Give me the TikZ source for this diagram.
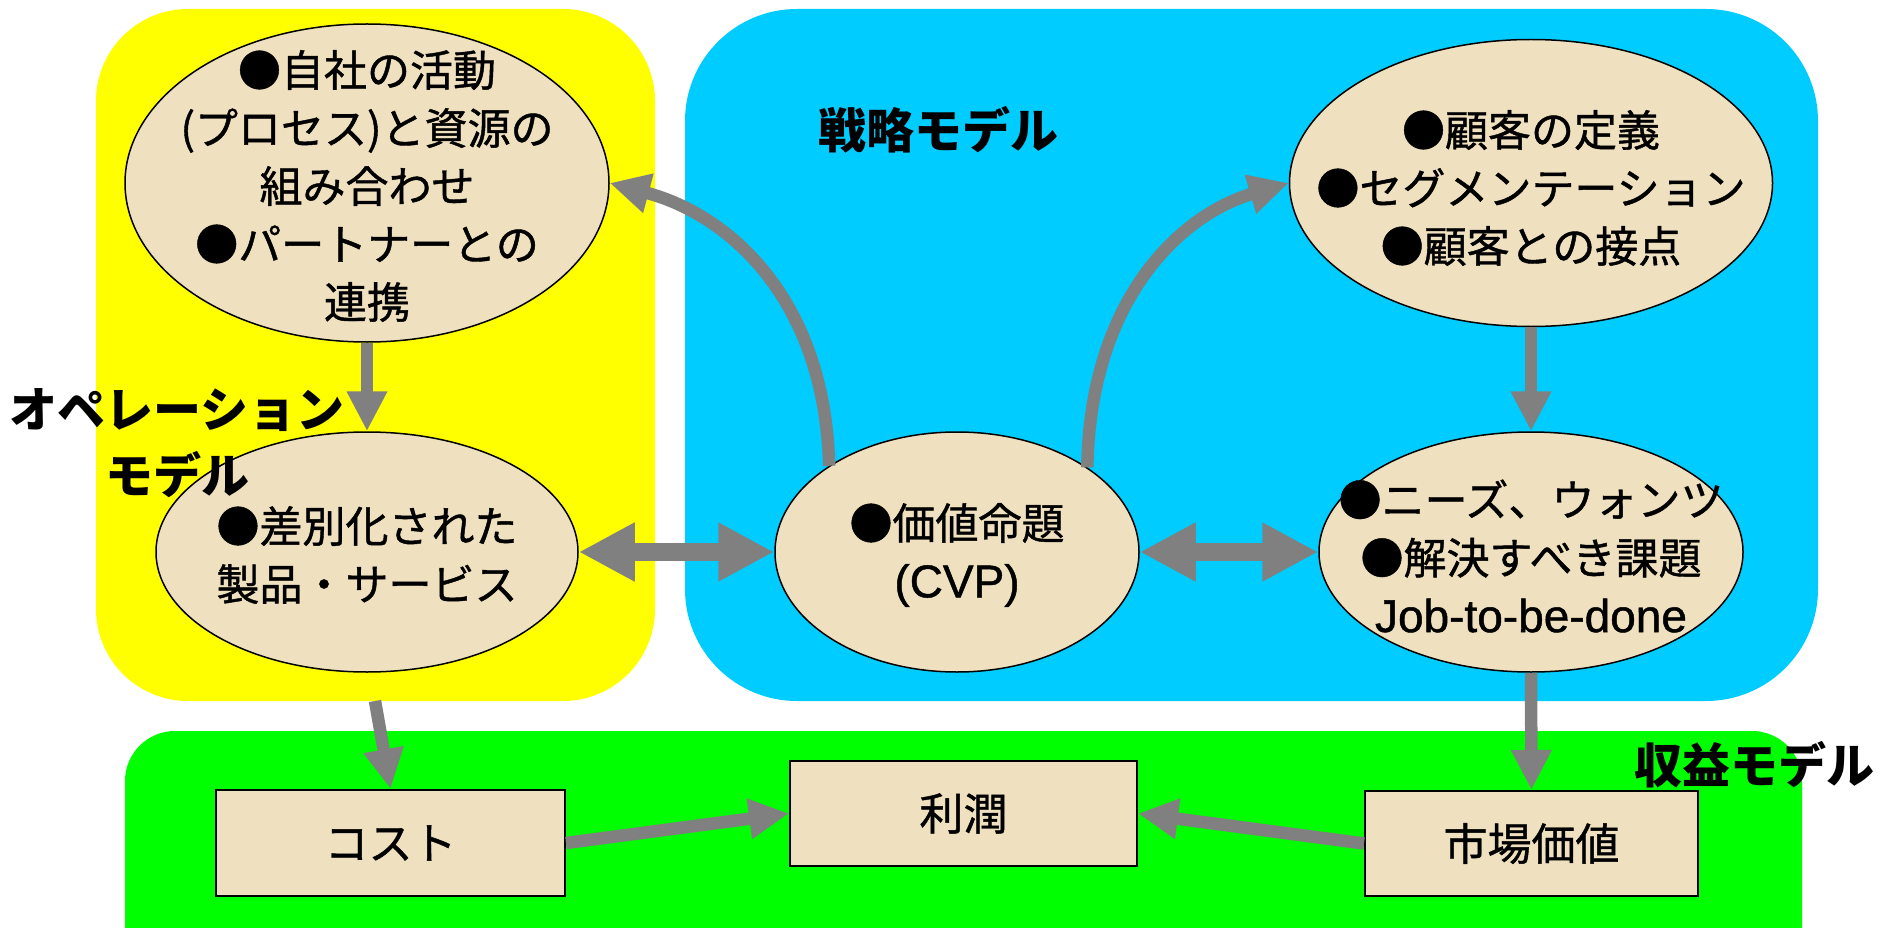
\documentclass[tikz,border=0pt]{standalone}
\usepackage{fontspec}
\setmainfont{Noto Sans CJK JP}
\newfontfamily\jpt{Noto Sans CJK JP}[FakeBold=1]
\newfontfamily\lat{Liberation Sans}[FakeBold=1]
\usetikzlibrary{arrows.meta,shapes.geometric}
\definecolor{ybg}{RGB}{255,255,0}
\definecolor{bbg}{RGB}{0,204,255}
\definecolor{gbg}{RGB}{0,255,0}
\definecolor{nodefill}{RGB}{239,225,192}
\definecolor{arr}{RGB}{128,128,128}
\begin{document}
\begin{tikzpicture}[x=1pt,y=-1pt,
 ell/.style={ellipse, draw=black, line width=1.5pt, fill=nodefill, inner sep=0pt},
 txt/.style={align=center, font=\jpt\fontsize{43}{58}\selectfont, inner sep=0pt},
 box/.style={rectangle, draw=black, line width=2pt, fill=nodefill, inner sep=0pt, font=\jpt\fontsize{44}{58}\selectfont},
 lbl/.style={font=\fontsize{48}{66}\selectfont\bfseries, align=center, inner sep=0pt},
 arw/.style={draw=arr, line width=12.5pt, -{Triangle[width=38pt,length=40pt]}},
 darw/.style={draw=arr, line width=18pt, {Triangle[width=55pt,length=56pt]}-{Triangle[width=55pt,length=56pt]}},
]
\useasboundingbox (0,0) rectangle (1898,928);
\clip (0,0) rectangle (1898,928);
% backgrounds
\fill[ybg, rounded corners=92pt] (96,9) rectangle (655,701);
\fill[bbg, rounded corners=112pt] (685,9) rectangle (1818,701);
\fill[gbg, rounded corners=50pt] (125,731) rectangle (1802,990);
% ellipses
\node[ell, minimum width=484pt, minimum height=318pt] (tl) at (367,183) {};
\node[ell, minimum width=422pt, minimum height=240pt] (ml) at (367,552) {};
\node[ell, minimum width=364pt, minimum height=240pt] (cvp) at (957,552) {};
\node[ell, minimum width=483pt, minimum height=287pt] (tr) at (1531,183) {};
\node[ell, minimum width=424pt, minimum height=240pt] (mr) at (1531,552) {};
% ellipse texts
\node[txt] (tlt) at (367,186) {●自社の活動\\(プロセス)と資源の\\組み合わせ\\●パートナーとの\\連携};
\node[txt] (mlt) at (367,555) {●差別化された\\製品・サービス};
\node[txt] (cvpt) at (957,555) {●価値命題\\{\lat\fontsize{46}{58}\selectfont (CVP)}};
\node[txt] (trt) at (1531,188) {●顧客の定義\\●セグメンテーション\\●顧客との接点};
\node[txt] (mrt) at (1531,556) {●ニーズ、ウォンツ\\●解決すべき課題\\{\lat\fontsize{46}{58}\selectfont Job-to-be-done}};
% boxes
\node[box, minimum width=349pt, minimum height=106pt] (cost) at (390.5,843) {コスト};
\node[box, minimum width=347pt, minimum height=105pt] (profit) at (963.5,813.5) {利潤};
\node[box, minimum width=333pt, minimum height=105pt] (market) at (1531.5,843.5) {市場価値};
% labels
\node[lbl] (strat) at (938,130) {戦略モデル};
\node[lbl] (ops) at (177,443) {オペレーション\\モデル};
\node[lbl] (rev) at (1754,765) {収益モデル};
% arrows
\coordinate (ystart) at (375,701);
\draw[arw] (tl.south) -- (ml.north);
\draw[arw] (tr.south) -- (mr.north);
\draw[arw] (mr.south) -- (market.north);
\draw[arw] (ystart) -- (cost.north);
\draw[arw] (cost.east) -- (profit.west);
\draw[arw] (market.west) -- (profit.east);
\draw[darw] (ml.east) -- (cvp.west);
\draw[darw] (cvp.east) -- (mr.west);
\draw[arw] (cvp.146.6) .. controls (825,300) and (730,215) .. (tl.east);
\draw[arw] (cvp.33.4) .. controls (1090,300) and (1180,215) .. (tr.west);
\end{tikzpicture}
\end{document}
